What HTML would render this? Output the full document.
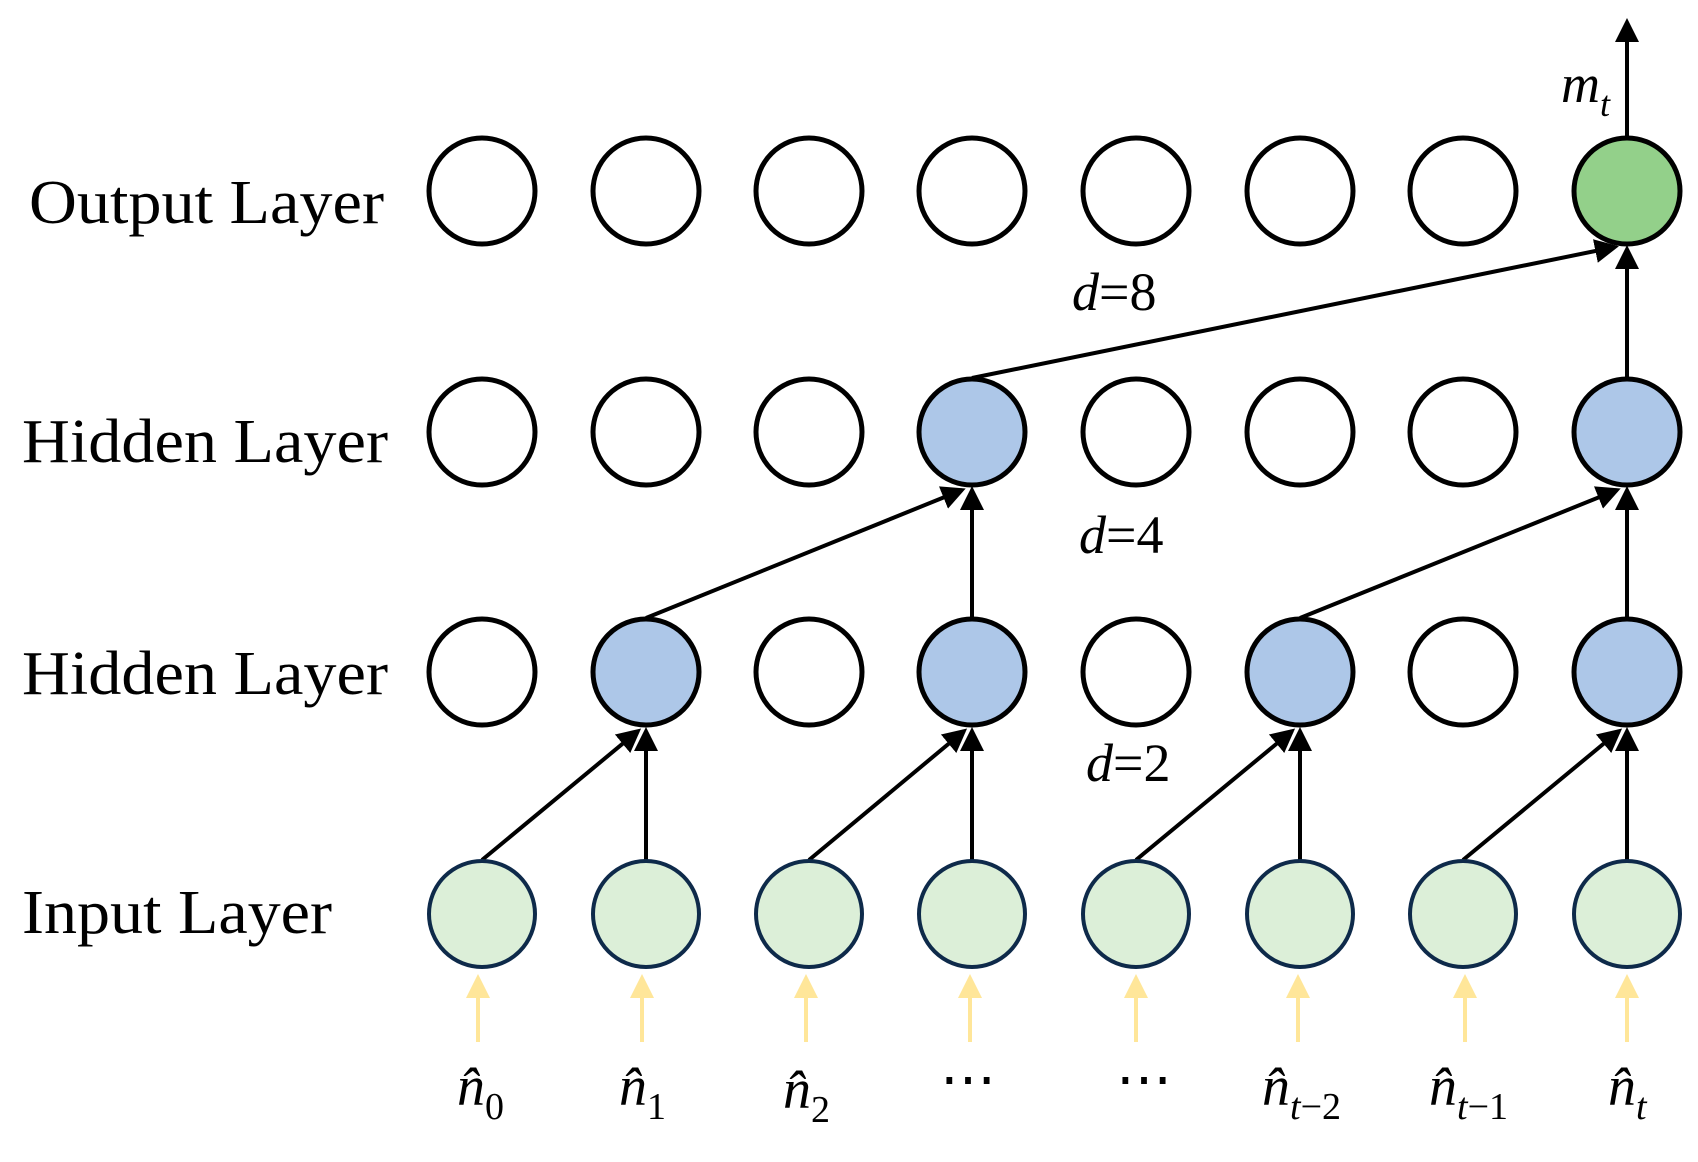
<!DOCTYPE html>
<html><head><meta charset="utf-8"><style>html,body{margin:0;padding:0;background:#fff}</style></head><body>
<svg width="1698" height="1157" viewBox="0 0 1698 1157" xmlns="http://www.w3.org/2000/svg" font-family="Liberation Serif, serif">
<defs>
<marker id="ah" markerWidth="6" markerHeight="6" refX="5" refY="3" orient="auto" markerUnits="strokeWidth"><path d="M0,0 L6,3 L0,6 z" fill="#000"/></marker>
<marker id="ay" markerWidth="6" markerHeight="6" refX="5" refY="3" orient="auto" markerUnits="strokeWidth"><path d="M0,0 L6,3 L0,6 z" fill="#FFE699"/></marker>
</defs>
<g font-size="62" fill="#000">
<text x="29" y="223" textLength="355" lengthAdjust="spacingAndGlyphs">Output Layer</text>
<text x="22" y="462" textLength="366" lengthAdjust="spacingAndGlyphs">Hidden Layer</text>
<text x="22" y="694" textLength="366" lengthAdjust="spacingAndGlyphs">Hidden Layer</text>
<text x="22" y="933" textLength="310" lengthAdjust="spacingAndGlyphs">Input Layer</text>
</g>
<g stroke="#000" stroke-width="4" fill="none">
<!-- input to hidden1 -->
<line x1="482" y1="860" x2="638" y2="731" marker-end="url(#ah)"/>
<line x1="646" y1="860" x2="646" y2="731" marker-end="url(#ah)"/>
<line x1="809" y1="860" x2="964" y2="731" marker-end="url(#ah)"/>
<line x1="972" y1="860" x2="972" y2="731" marker-end="url(#ah)"/>
<line x1="1136" y1="860" x2="1292" y2="731" marker-end="url(#ah)"/>
<line x1="1300" y1="860" x2="1300" y2="731" marker-end="url(#ah)"/>
<line x1="1463" y1="860" x2="1619" y2="731" marker-end="url(#ah)"/>
<line x1="1627" y1="860" x2="1627" y2="731" marker-end="url(#ah)"/>
<!-- hidden1 to hidden2 -->
<line x1="646" y1="618" x2="962" y2="490" marker-end="url(#ah)"/>
<line x1="972" y1="618" x2="972" y2="490" marker-end="url(#ah)"/>
<line x1="1300" y1="618" x2="1617" y2="490" marker-end="url(#ah)"/>
<line x1="1627" y1="618" x2="1627" y2="490" marker-end="url(#ah)"/>
<!-- hidden2 to output -->
<line x1="972" y1="378" x2="1615" y2="247" marker-end="url(#ah)"/>
<line x1="1627" y1="378" x2="1627" y2="249" marker-end="url(#ah)"/>
<line x1="1627" y1="137" x2="1627" y2="22" marker-end="url(#ah)"/>
</g>
<g stroke="#FFE699" stroke-width="4">
<line x1="478" y1="1042" x2="478" y2="978" marker-end="url(#ay)"/>
<line x1="642" y1="1042" x2="642" y2="978" marker-end="url(#ay)"/>
<line x1="806" y1="1042" x2="806" y2="978" marker-end="url(#ay)"/>
<line x1="970" y1="1042" x2="970" y2="978" marker-end="url(#ay)"/>
<line x1="1136" y1="1042" x2="1136" y2="978" marker-end="url(#ay)"/>
<line x1="1298" y1="1042" x2="1298" y2="978" marker-end="url(#ay)"/>
<line x1="1465" y1="1042" x2="1465" y2="978" marker-end="url(#ay)"/>
<line x1="1627" y1="1042" x2="1627" y2="978" marker-end="url(#ay)"/>
</g>
<g stroke="#000" stroke-width="5">
<!-- output row -->
<circle cx="482" cy="191" r="53" fill="#fff"/><circle cx="646" cy="191" r="53" fill="#fff"/><circle cx="809" cy="191" r="53" fill="#fff"/><circle cx="972" cy="191" r="53" fill="#fff"/><circle cx="1136" cy="191" r="53" fill="#fff"/><circle cx="1300" cy="191" r="53" fill="#fff"/><circle cx="1463" cy="191" r="53" fill="#fff"/><circle cx="1627" cy="191" r="53" fill="#93D08A"/>
<!-- hidden2 -->
<circle cx="482" cy="432" r="53" fill="#fff"/><circle cx="646" cy="432" r="53" fill="#fff"/><circle cx="809" cy="432" r="53" fill="#fff"/><circle cx="972" cy="432" r="53" fill="#ADC7E8"/><circle cx="1136" cy="432" r="53" fill="#fff"/><circle cx="1300" cy="432" r="53" fill="#fff"/><circle cx="1463" cy="432" r="53" fill="#fff"/><circle cx="1627" cy="432" r="53" fill="#ADC7E8"/>
<!-- hidden1 -->
<circle cx="482" cy="672" r="53" fill="#fff"/><circle cx="646" cy="672" r="53" fill="#ADC7E8"/><circle cx="809" cy="672" r="53" fill="#fff"/><circle cx="972" cy="672" r="53" fill="#ADC7E8"/><circle cx="1136" cy="672" r="53" fill="#fff"/><circle cx="1300" cy="672" r="53" fill="#ADC7E8"/><circle cx="1463" cy="672" r="53" fill="#fff"/><circle cx="1627" cy="672" r="53" fill="#ADC7E8"/>
</g>
<g stroke="#0E2A4A" stroke-width="4" fill="#DCEFD8">
<circle cx="482" cy="914" r="53"/><circle cx="646" cy="914" r="53"/><circle cx="809" cy="914" r="53"/><circle cx="972" cy="914" r="53"/><circle cx="1136" cy="914" r="53"/><circle cx="1300" cy="914" r="53"/><circle cx="1463" cy="914" r="53"/><circle cx="1627" cy="914" r="53"/>
</g>
<g font-size="54" font-style="italic" fill="#000">
<text x="1072" y="310"><tspan>d</tspan><tspan font-style="normal">=8</tspan></text>
<text x="1079" y="553"><tspan>d</tspan><tspan font-style="normal">=4</tspan></text>
<text x="1086" y="781"><tspan>d</tspan><tspan font-style="normal">=2</tspan></text>
<text x="1561" y="102">m<tspan font-size="36" dy="14">t</tspan></text>
</g>
<g font-size="56" fill="#000">
<text x="457" y="1105" font-style="italic">n̂<tspan font-style="normal" font-size="38" dy="14">0</tspan></text>
<text x="619" y="1105" font-style="italic">n̂<tspan font-style="normal" font-size="38" dy="14">1</tspan></text>
<text x="783" y="1108" font-style="italic">n̂<tspan font-style="normal" font-size="38" dy="14">2</tspan></text>
<text x="940" y="1098">⋯</text>
<text x="1116" y="1098">⋯</text>
<text x="1262" y="1105" font-style="italic">n̂<tspan font-size="38" dy="14">t</tspan><tspan font-style="normal" font-size="38">−2</tspan></text>
<text x="1429" y="1105" font-style="italic">n̂<tspan font-size="38" dy="14">t</tspan><tspan font-style="normal" font-size="38">−1</tspan></text>
<text x="1608" y="1105" font-style="italic">n̂<tspan font-size="38" dy="14">t</tspan></text>
</g>
</svg>
</body></html>
